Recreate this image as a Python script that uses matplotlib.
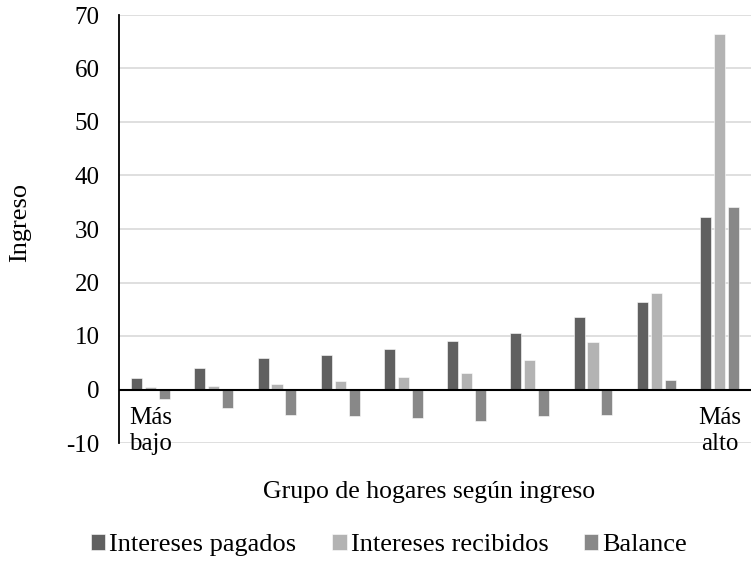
import matplotlib.pyplot as plt
import numpy as np

plt.rcParams['font.family'] = ['Liberation Serif', 'DejaVu Serif']
plt.rcParams['axes.unicode_minus'] = False

# data
grupos = ["Más\nbajo", "", "", "", "", "", "", "", "", "Más\nalto"]
pagados = [2.2, 4.1, 5.9, 6.5, 7.6, 9.0, 10.5, 13.5, 16.3, 32.3]
recibidos = [0.5, 0.7, 1.1, 1.5, 2.3, 3.1, 5.5, 8.8, 18.0, 66.5]
balance = [-1.8, -3.4, -4.8, -5.0, -5.3, -5.8, -5.0, -4.7, 1.7, 34.2]
series = ["Intereses pagados", "Intereses recibidos", "Balance"]
colores = ["#606060", "#b3b3b3", "#888888"]

fig = plt.figure(figsize=(7.51, 5.63), dpi=100)
ax = fig.add_axes([119 / 751, 1 - 443 / 563, 1 - 119 / 751, (443 - 15) / 563])

x = np.arange(len(pagados))
w = 0.175
step = 0.22
for i, (vals, lab, c) in enumerate(zip([pagados, recibidos, balance], series, colores)):
    ax.bar(x + (i - 1) * step, vals, width=w, color=c, label=lab,
           edgecolor="white", linewidth=0.4, zorder=3)

ax.set_xlim(-0.5, len(pagados) - 0.5)
ax.set_ylim(-10, 70)
ax.set_yticks(np.arange(-10, 71, 10))
ax.yaxis.grid(True, color="#d9d9d9", linewidth=1.2, zorder=0)
ax.axhline(0, color="black", linewidth=1.5, zorder=4)
ax.set_xticks([])
ax.tick_params(axis="y", length=0, pad=14, labelsize=18)
for s in ["top", "right", "bottom"]:
    ax.spines[s].set_visible(False)
ax.spines["left"].set_linewidth(1.3)

# category labels under the zero line
for xi, g in zip(x, grupos):
    if g:
        ax.text(xi, -3.3, g, ha="center", va="top", fontsize=18, zorder=5,
                linespacing=1.2)

fig.text(20 / 751, 1 - 222 / 563, "Ingreso", rotation=90,
         ha="center", va="center", fontsize=19)
fig.text(429 / 751, 1 - 492 / 563, "Grupo de hogares según ingreso",
         ha="center", va="center", fontsize=18.5)

fig.legend(loc="center", bbox_to_anchor=(389 / 751, 1 - 545 / 563), ncol=3,
           frameon=False, fontsize=19, handlelength=0.55, handleheight=0.55,
           handletextpad=0.15, columnspacing=1.35, borderpad=0)

fig.savefig("out.png", dpi=100)
